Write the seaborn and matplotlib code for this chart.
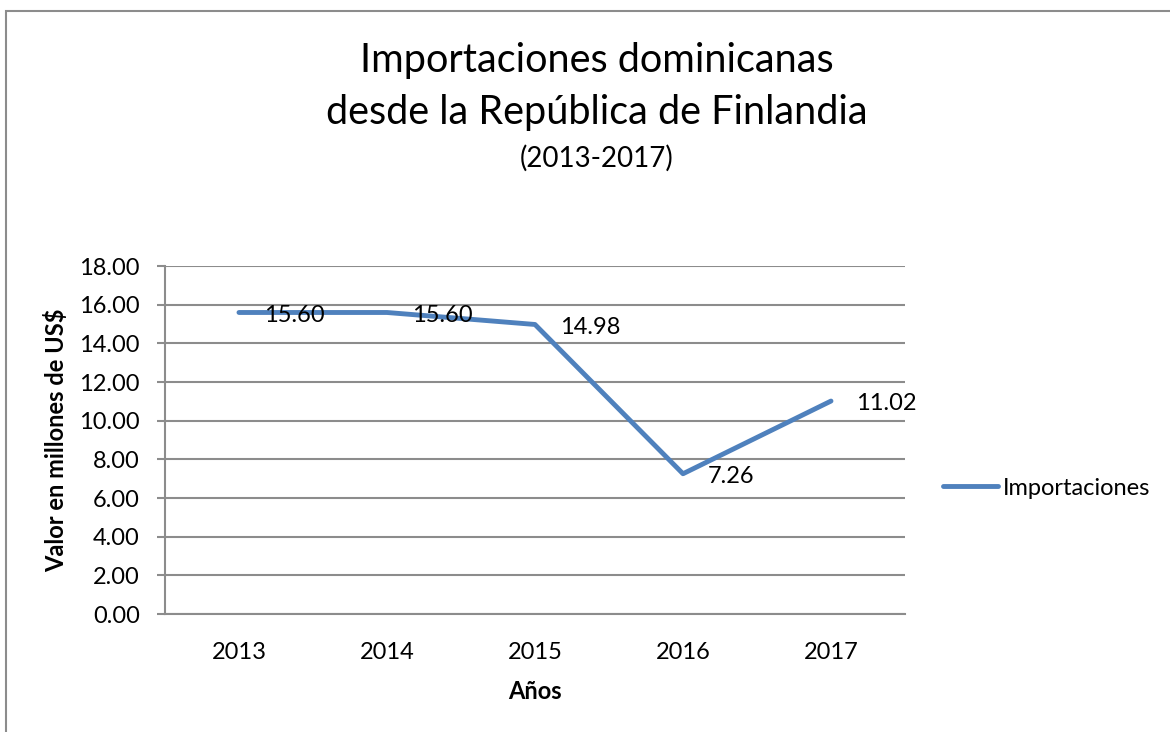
'''
Importaciones dominicanas desde Finlandia (2013-2017), estilo Excel.
'''

# imports
import pandas as pd
import numpy as np
import seaborn as sns
import matplotlib.pyplot as plt
from matplotlib.patches import Rectangle

# data
years = ['2013', '2014', '2015', '2016', '2017']
importaciones = [15.60, 15.60, 14.98, 7.26, 11.02]
y_ticks = [0, 2, 4, 6, 8, 10, 12, 14, 16, 18]

df = pd.DataFrame({'Year': years, 'Importaciones': importaciones})
df['pos'] = np.arange(len(years))

# style
sns.set_theme(style = 'white')
plt.rcParams['font.family'] = ['Lato', 'DejaVu Sans']
for k in ['text.color', 'axes.labelcolor', 'xtick.color', 'ytick.color']:
    plt.rcParams[k] = 'black'
col_line = '#4F81BD'
col_grid = '#8C8C8C'
text_dct = {'title': 28.5, 'subtitle': 20, 'label': 17, 'tick': 17}

fig = plt.figure(figsize = (11.7, 7.32), dpi = 100)
ax = fig.add_axes([0.141, 0.161, 0.6325, 0.4755])

sns.lineplot(
    data = df,
    x = 'pos',
    y = 'Importaciones',
    color = col_line,
    linewidth = 3.5,
    solid_capstyle = 'round',
    label = 'Importaciones',
    ax = ax)

# data labels
for xi, yi in zip(df['pos'], df['Importaciones']):
    ax.annotate(f"{yi:.2f}", (xi, yi), xytext = (18, -2), textcoords = 'offset points',
                ha = 'left', va = 'center', fontsize = text_dct['tick'], color = 'black')

# axes
ax.set_xlim(-0.5, len(years) - 0.5)
ax.set_ylim(0, 18)
ax.set_yticks(y_ticks)
ax.set_yticklabels([f"{t:.2f}" for t in y_ticks])
ax.set_xticks(df['pos'])
ax.set_xticklabels(years)
ax.yaxis.grid(True, color = col_grid, linewidth = 1.5)
ax.set_axisbelow(True)
for s in ['top', 'right']:
    ax.spines[s].set_visible(False)
for s in ['left', 'bottom']:
    ax.spines[s].set_color(col_grid)
    ax.spines[s].set_linewidth(1.5)
ax.tick_params(axis = 'y', which = 'major', left = True, length = 6, width = 1.5,
               color = col_grid, labelsize = text_dct['tick'], pad = 12)
ax.tick_params(axis = 'x', which = 'major', bottom = False, labelsize = text_dct['tick'], pad = 14)
ax.set_xlabel('Años', size = text_dct['label'], fontweight = 'bold', labelpad = 12)
ax.set_ylabel('Valor en millones de US$', size = text_dct['label'], fontweight = 'bold', labelpad = 8)

# legend
ax.legend(loc = 'center left', bbox_to_anchor = (1.051, 0.362), frameon = False,
          borderaxespad = 0, borderpad = 0,
          fontsize = text_dct['tick'], handlelength = 2.35, handletextpad = 0.2)

# title
fig.text(0.51, 0.918, 'Importaciones dominicanas', ha = 'center', va = 'center', fontsize = text_dct['title'])
fig.text(0.51, 0.846, 'desde la República de Finlandia', ha = 'center', va = 'center', fontsize = text_dct['title'])
fig.text(0.51, 0.784, '(2013-2017)', ha = 'center', va = 'center', fontsize = text_dct['subtitle'])

# chart border
fig.patches.append(Rectangle((6 / 1170, -0.05), 1.1, 1 - 11 / 732 + 0.05, transform = fig.transFigure,
                             fill = False, edgecolor = '#8C8C8C', linewidth = 1.5))

plt.savefig('out.png', dpi = 100)
